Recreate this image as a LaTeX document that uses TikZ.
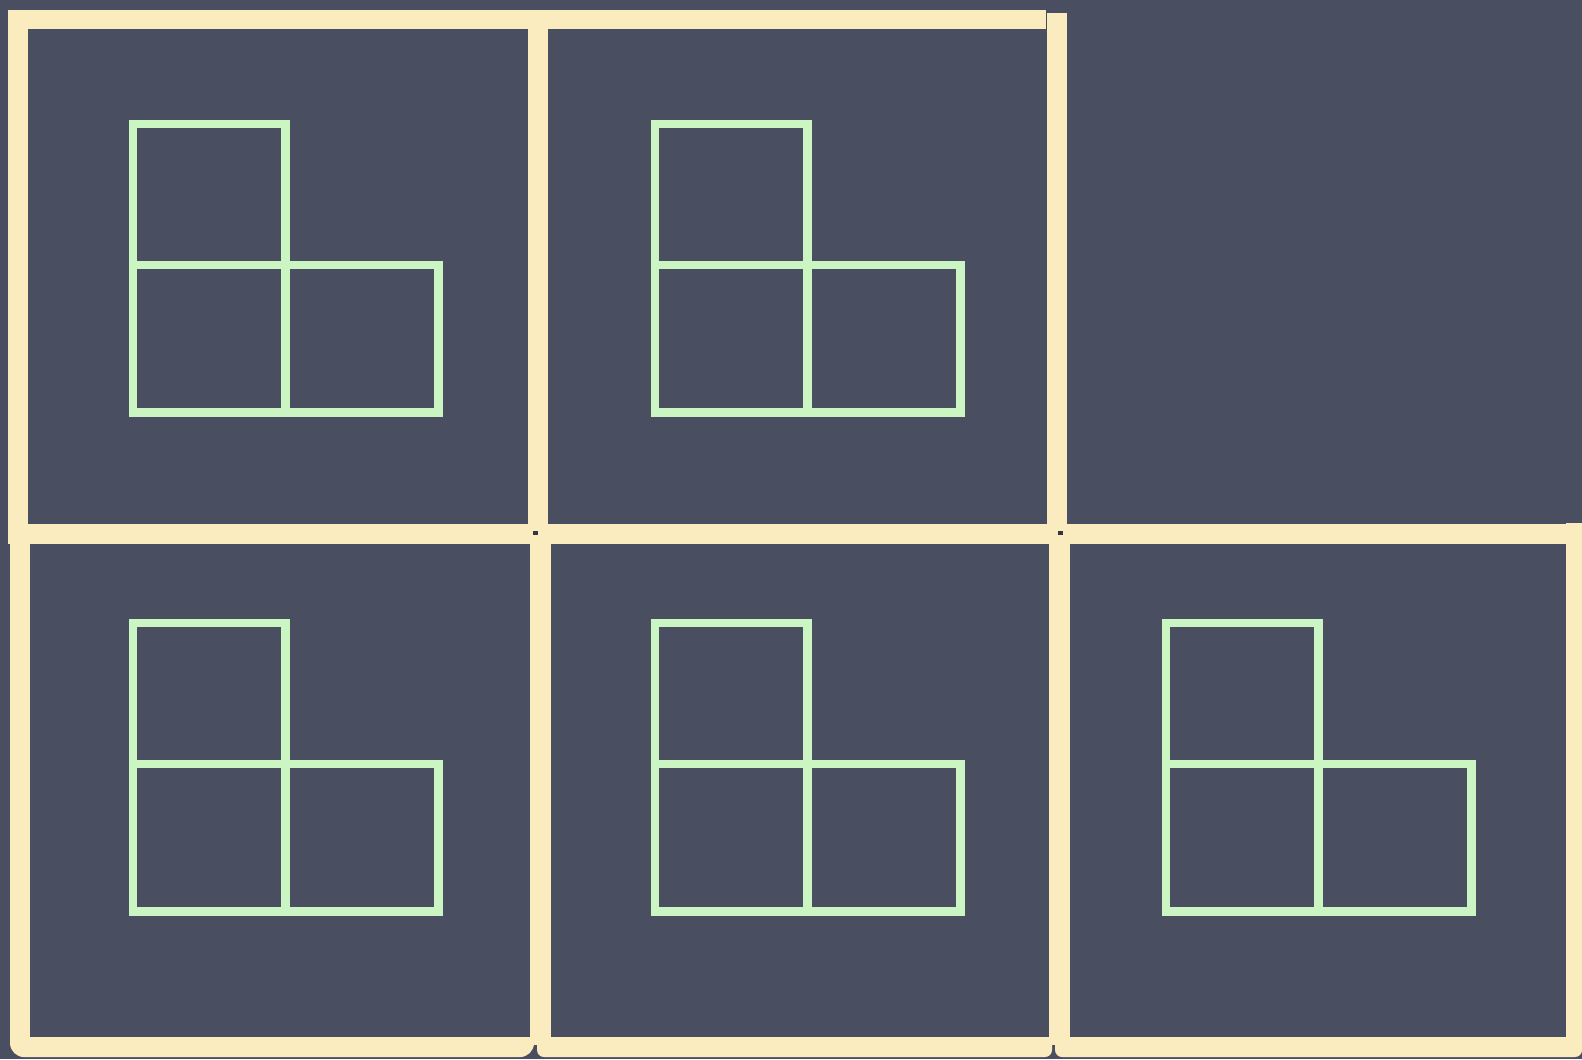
\documentclass[tikz,border=0pt]{standalone}
\usepackage{tikz}
\definecolor{board}{HTML}{494E60}
\definecolor{tape}{HTML}{FBECC0}
\definecolor{chalk}{HTML}{CCF5C4}

\begin{document}
\begin{tikzpicture}[
  x=0.01cm, y=-0.01cm,
  band/.style={fill=tape, draw=none},
  piece/.style={draw=chalk, line width=2.4pt},
  pin/.style={fill=board!70!black, draw=none},
]

% ===== BACKGROUND =====
\fill[board] (0,0) rectangle (1582,1059);
\useasboundingbox (0,0) rectangle (1582,1059);

% ===== FRAMES: top row (two cells) =====
\fill[band] (8,10) rectangle (1046,29);
\fill[band] (8,10) rectangle (28,526);
\fill[band] (528,10) rectangle (548,534);
\fill[band] (1047,13) rectangle (1067,534);

% ===== FRAMES: bottom row (three cells) =====
\fill[band] (8,524) rectangle (1582,544);
\fill[band] (10,526) rectangle (30,1045);
\fill[band] (530,534) rectangle (551,1045);
\fill[band] (1049,534) rectangle (1070,1045);
\fill[band] (1566,523) rectangle (1582,1045);
\fill[band] (534,1037) -- (10,1037) [rounded corners=4pt] -- (10,1057)
  -- (534,1057) [sharp corners] -- cycle;
\fill[band] (1052,1037) -- (537,1037) [rounded corners=2pt] -- (537,1057)
  -- (1052,1057) [sharp corners] -- cycle;
\fill[band] (1582,1037) -- (1055,1037) [rounded corners=2pt] -- (1055,1057)
  -- (1582,1057) [sharp corners] -- cycle;

% pins at the joints
\fill[pin] (533,531) rectangle (538,535);
\fill[pin] (1058,531) rectangle (1063,535);

% ===== L-PIECES =====
\foreach \dx/\dy in {0/0, 522/0, 0/499, 522/499, 1033/499}
  \draw[piece, shift={(\dx,\dy)}]
    (133,124) rectangle (285.5,265)
    (133,265) rectangle (285.5,412.5)
    (285.5,265) rectangle (438.5,412.5);

\end{tikzpicture}
\end{document}
